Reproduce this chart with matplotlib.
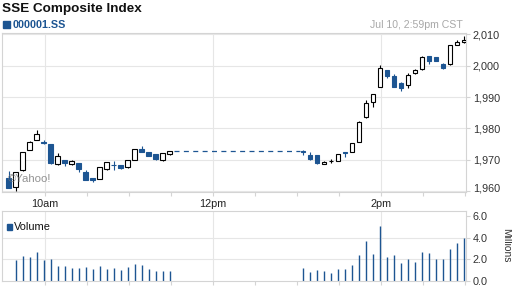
import numpy as np
import pandas as pd
import matplotlib
matplotlib.use("Agg")
import matplotlib.pyplot as plt
from matplotlib.patches import Rectangle
from matplotlib.transforms import ScaledTranslation

plt.rcParams['font.family'] = ['Liberation Sans', 'DejaVu Sans']

# 5 minute candles, morning and afternoon session
am_times = pd.date_range("2014-07-10 09:34", "2014-07-10 11:29", freq="5min")
pm_times = pd.date_range("2014-07-10 13:04", "2014-07-10 14:59", freq="5min")

am_open = [1964.2, 1961.3, 1966.7, 1973.1, 1976.3, 1975.5, 1975.0, 1968.5, 1969.8, 1968.5, 1968.9, 1966.0,
           1964.0, 1963.9, 1966.9, 1968.4, 1968.3, 1967.7, 1969.9, 1973.3, 1972.3, 1971.8, 1969.9, 1971.7]
am_high = [1966.4, 1966.0, 1972.4, 1975.8, 1979.4, 1976.2, 1975.1, 1972.0, 1970.0, 1969.9, 1969.0, 1966.7,
           1964.1, 1967.6, 1969.3, 1969.6, 1968.4, 1970.0, 1973.4, 1974.3, 1972.4, 1971.9, 1972.2, 1972.9]
am_low = [1960.8, 1960.1, 1966.3, 1973.0, 1976.2, 1975.0, 1968.5, 1968.4, 1968.1, 1968.4, 1966.1, 1963.4,
          1962.9, 1963.8, 1966.8, 1966.7, 1967.1, 1967.4, 1969.8, 1972.4, 1971.1, 1969.9, 1969.6, 1971.6]
am_close = [1961.0, 1965.9, 1972.3, 1975.7, 1978.1, 1975.3, 1968.8, 1971.2, 1968.8, 1969.5, 1967.1, 1963.5,
            1963.6, 1967.5, 1969.1, 1968.2, 1967.2, 1969.9, 1973.3, 1972.5, 1971.2, 1970.2, 1972.0, 1972.8]

pm_open = [1972.6, 1971.5, 1971.5, 1968.6, 1969.4, 1969.6, 1972.3, 1972.5, 1975.7, 1983.5, 1988.3, 1993.3,
           1998.6, 1996.7, 1994.6, 1993.8, 1997.6, 1998.8, 2003.0, 2002.7, 2000.5, 2000.4, 2006.6, 2007.5]
pm_high = [1973.1, 1972.4, 1971.6, 1969.5, 1970.3, 1971.8, 1972.4, 1975.3, 1982.2, 1989.0, 1991.0, 2000.2,
           1998.7, 1997.3, 1994.7, 1997.6, 1998.9, 2003.0, 2003.1, 2002.8, 2000.9, 2006.7, 2008.2, 2009.5]
pm_low = [1971.5, 1970.0, 1968.7, 1968.5, 1968.8, 1969.5, 1970.7, 1972.4, 1975.6, 1983.4, 1986.9, 1993.2,
          1996.2, 1993.2, 1991.9, 1993.0, 1997.5, 1998.7, 2000.5, 2001.5, 1999.1, 2000.3, 2006.5, 2007.4]
pm_close = [1972.4, 1970.1, 1968.8, 1969.3, 1969.7, 1971.7, 1972.1, 1975.2, 1982.1, 1988.2, 1990.9, 1999.2,
            1996.8, 1993.3, 1993.0, 1997.0, 1998.5, 2002.9, 2001.6, 2001.6, 1999.2, 2006.6, 2007.5, 2008.2]

# volume, millions
am_vol = [0, 1.95, 2.33, 2.23, 2.70, 1.95, 2.05, 1.40, 1.40, 1.21, 1.21, 1.30,
          1.12, 1.40, 1.12, 1.21, 1.02, 1.30, 1.58, 1.49, 1.12, 0.93, 0.93, 0.93]
pm_vol = [1.24, 0.87, 1.02, 0.93, 0.78, 1.12, 1.12, 1.49, 2.45, 3.72, 2.54, 5.15,
          2.23, 2.45, 1.71, 2.05, 1.80, 2.73, 2.64, 2.05, 2.05, 2.98, 3.57, 4.00]

price_ticks = [1960, 1970, 1980, 1990, 2000, 2010]
vol_ticks = [0, 2, 4, 6]

blue = '#1d5592'
grid_c = '#e6e6e6'
axis_c = '#d4d4d4'

open_ = np.array(am_open + pm_open)
high = np.array(am_high + pm_high)
low = np.array(am_low + pm_low)
close = np.array(am_close + pm_close)
vol = np.array(am_vol + pm_vol)
start = pd.Timestamp("2014-07-10 09:30")
t = np.array([(x - start).total_seconds() / 60 for x in list(am_times) + list(pm_times)])

fig = plt.figure(figsize=(5.12, 2.88), dpi=100)
ax = fig.add_axes([2 / 512, 1 - 192 / 288, 464 / 512, 159 / 288])
vax = fig.add_axes([2 / 512, 1 - 281 / 288, 464 / 512, 70 / 288])

for a in (ax, vax):
    a.set_xlim(-0.7, 330.7)
    for s in a.spines.values():
        s.set_color(axis_c)
        s.set_linewidth(0.8)
    a.set_xticks([30, 150, 270])
    a.set_xticks([60, 90, 120, 180, 210, 240, 300, 330], minor=True)
    a.tick_params(axis='x', which='both', length=3, color=axis_c, width=0.8, pad=2,
                  labelsize=7.8, labelcolor='#222222')
    a.yaxis.tick_right()
    a.tick_params(axis='y', length=3, color=axis_c, width=0.8, pad=2, labelsize=7.8, labelcolor='#333333')
    for xm in [30, 150, 270]:
        a.axvline(xm, color=grid_c, lw=0.8, zorder=0)

# candles
up = close >= open_
ax.vlines(t[up], low[up], high[up], color='black', lw=0.8, zorder=2)
ax.vlines(t[~up], low[~up], high[~up], color=blue, lw=0.8, zorder=2)
body_lo = np.minimum(open_, close)
body_h = np.maximum(np.abs(close - open_), 0.15)
ax.bar(t[up], body_h[up], bottom=body_lo[up], width=3.0, color='white', edgecolor='black', lw=0.8, zorder=3)
ax.bar(t[~up], body_h[~up], bottom=body_lo[~up], width=3.0, color=blue, edgecolor=blue, lw=0.8, zorder=3)

# lunch break
n_am = len(am_times)
ax.plot([t[n_am - 1] + 3.5, t[n_am] - 2], [am_close[-1], am_close[-1]], color=blue, lw=0.9,
        ls=(0, (4, 3.5)), zorder=2)

ax.set_ylim(1959.65, 2010.45)
ax.set_yticks(price_ticks)
ax.set_yticklabels([f"{v:,}" for v in price_ticks])
lab0 = ax.get_yticklabels()[0]
lab0.set_transform(lab0.get_transform() + ScaledTranslation(0, 3.5 / 100, fig.dpi_scale_trans))
for yv in price_ticks:
    ax.axhline(yv, color=grid_c, lw=0.8, zorder=0)
ax.set_xticklabels(['10am', '12pm', '2pm'])
vax.set_xticklabels([])
ax.text(0.012, 0.06, '\u00a9Yahoo!', transform=ax.transAxes, fontsize=8.2, color='#777777',
        alpha=0.8, zorder=4)

# volume
vax.vlines(t, 0, vol, color=blue, lw=1.0)
vax.set_ylim(0, 6.5)
vax.set_yticks(vol_ticks)
vax.set_yticklabels([f"{v:.1f}" for v in vol_ticks])
for yv in [2, 4]:
    vax.axhline(yv, color=grid_c, lw=0.8, zorder=0)
vax.add_patch(Rectangle((6.7 / 512, 1 - 229.5 / 288), 5.5 / 512, 6 / 288, transform=fig.transFigure,
                        color=blue, clip_on=False))
fig.text(14 / 512, 1 - 229.8 / 288, 'Volume', fontsize=7.9, color='#111111')
fig.text(506 / 512, 1 - 245 / 288, 'Millions', fontsize=7.4, color='#333333', rotation=270,
         ha='center', va='center')

# header
fig.text(2 / 512, 1 - 11.8 / 288, 'SSE Composite Index', fontsize=9.7, fontweight='bold', color='#111111')
fig.patches.append(Rectangle((2.5 / 512, 1 - 28.3 / 288), 7.2 / 512, 7.5 / 288, transform=fig.transFigure,
                             color=blue, figure=fig))
fig.text(12.5 / 512, 1 - 28 / 288, '000001.SS', fontsize=7.8, fontweight='bold', color=blue)
fig.text(463 / 512, 1 - 27.5 / 288, 'Jul 10, 2:59pm CST', fontsize=7.6, color='#a8a8a8', ha='right')

fig.savefig('out.png', dpi=100)
